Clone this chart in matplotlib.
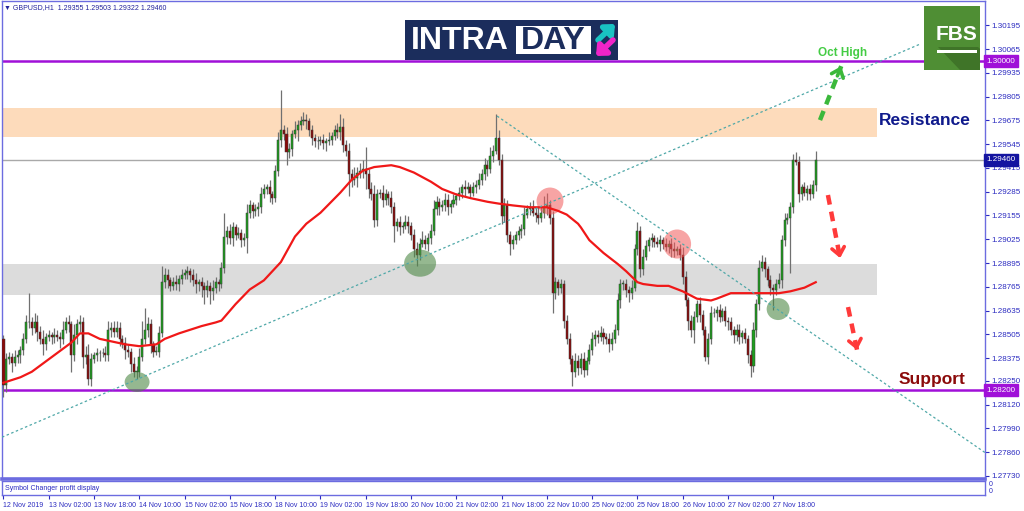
import numpy as np
import matplotlib
matplotlib.use('Agg')
import matplotlib.pyplot as plt
import matplotlib.transforms as mtrans
from matplotlib.patches import Ellipse, Rectangle, Polygon

# ---------------- data ----------------
BASE = 1.2800          # price base, values below are pips above it
PIP = 0.0001
OPEN0_PIPS = 48
CLOSE_PIPS = [
    23, 37, 38, 35, 38, 39, 42, 48, 57, 57,
    54, 57, 52, 48, 45, 49, 50, 49, 50, 49,
    48, 53, 57, 56, 39, 50, 56, 57, 38, 39,
    26, 37, 39, 40, 40, 40, 39, 53, 54, 52,
    54, 48, 46, 42, 41, 34, 30, 30, 38, 48,
    53, 56, 45, 41, 41, 51, 79, 83, 80, 77,
    79, 78, 81, 83, 84, 85, 83, 80, 78, 79,
    77, 75, 77, 74, 76, 79, 78, 87, 104, 107,
    103, 109, 105, 106, 102, 103, 117, 121, 118, 119,
    120, 127, 130, 131, 127, 125, 140, 157, 162, 160,
    150, 152, 160, 162, 165, 167, 168, 167, 162, 158,
    156, 156, 157, 155, 156, 157, 159, 162, 161, 164,
    154, 151, 138, 135, 136, 139, 140, 141, 138, 130,
    127, 113, 127, 128, 124, 127, 125, 120, 110, 112,
    109, 110, 112, 110, 105, 97, 94, 100, 102, 100,
    103, 107, 119, 123, 120, 121, 124, 120, 122, 124,
    126, 128, 131, 130, 131, 128, 131, 132, 135, 138,
    143, 141, 148, 151, 158, 146, 115, 121, 105, 100,
    102, 105, 107, 108, 116, 119, 120, 117, 116, 114,
    117, 120, 121, 114, 73, 79, 76, 78, 58, 48,
    37, 30, 36, 32, 37, 31, 36, 42, 48, 50,
    49, 51, 49, 48, 45, 48, 53, 69, 78, 78,
    75, 73, 76, 97, 107, 86, 93, 99, 102, 103,
    101, 100, 102, 100, 98, 100, 97, 96, 97, 94,
    82, 69, 58, 53, 60, 67, 61, 53, 38, 48,
    62, 62, 64, 60, 63, 58, 57, 53, 50, 53,
    49, 51, 48, 39, 33, 53, 67, 87, 90, 86,
    80, 76, 75, 78, 80, 102, 113, 114, 120, 146,
    145, 127, 131, 128, 130, 127, 132, 146,
]
UP_WICK = [
    2, 3, 3, 2, 4, 3, 2, 3, 4, 16,
    3, 5, 4, 3, 5, 2, 3, 2, 4, 3,
    3, 5, 3, 4, 2, 6, 3, 4, 3, 5,
    6, 3, 2, 3, 2, 3, 4, 5, 3, 4,
    4, 3, 2, 3, 3, 2, 4, 3, 5, 10,
    12, 4, 3, 2, 3, 4, 9, 4, 3, 2,
    3, 4, 2, 3, 2, 3, 2, 3, 4, 2,
    3, 2, 3, 2, 4, 3, 2, 3, 13, 3,
    4, 3, 2, 3, 2, 3, 5, 3, 2, 3,
    3, 4, 3, 2, 4, 2, 3, 4, 22, 3,
    4, 3, 2, 5, 3, 3, 4, 3, 2, 3,
    2, 3, 2, 3, 2, 4, 2, 3, 4, 7,
    5, 3, 4, 3, 6, 3, 4, 5, 12, 3,
    4, 5, 3, 2, 4, 3, 2, 4, 3, 2,
    3, 2, 4, 3, 2, 3, 4, 3, 5, 3,
    3, 4, 5, 3, 2, 3, 4, 3, 2, 3,
    2, 3, 2, 4, 3, 2, 3, 3, 4, 3,
    4, 3, 5, 3, 13, 4, 3, 4, 3, 2,
    3, 2, 3, 3, 4, 2, 3, 4, 3, 4,
    3, 6, 7, 3, 4, 3, 2, 3, 2, 3,
    3, 2, 4, 3, 3, 4, 2, 3, 4, 3,
    3, 4, 3, 2, 3, 4, 3, 4, 3, 2,
    3, 2, 4, 3, 5, 3, 4, 3, 2, 3,
    2, 3, 3, 2, 3, 2, 3, 4, 2, 3,
    4, 3, 2, 3, 3, 2, 4, 3, 2, 3,
    4, 3, 2, 3, 2, 3, 2, 3, 2, 3,
    3, 2, 3, 2, 3, 4, 3, 4, 4, 3,
    2, 3, 2, 3, 4, 3, 4, 3, 3, 3,
    4, 3, 2, 3, 2, 3, 3, 5,
]
DN_WICK = [
    7, 4, 3, 5, 2, 3, 4, 3, 2, 3,
    4, 3, 5, 3, 6, 3, 2, 4, 3, 2,
    5, 3, 2, 4, 9, 3, 5, 4, 6, 4,
    3, 4, 2, 3, 4, 2, 3, 3, 4, 3,
    3, 4, 3, 5, 3, 4, 3, 4, 3, 2,
    3, 4, 5, 3, 2, 3, 2, 3, 4, 3,
    2, 3, 4, 3, 2, 3, 4, 3, 5, 4,
    6, 8, 4, 7, 5, 3, 4, 2, 3, 4,
    3, 4, 3, 2, 4, 3, 8, 3, 4, 3,
    4, 3, 2, 3, 4, 3, 2, 3, 4, 3,
    7, 3, 4, 2, 6, 3, 2, 4, 3, 4,
    3, 4, 2, 3, 4, 2, 3, 2, 3, 4,
    4, 3, 12, 4, 3, 5, 3, 4, 8, 5,
    3, 4, 3, 2, 4, 3, 4, 3, 9, 3,
    4, 3, 2, 4, 3, 4, 6, 3, 2, 3,
    4, 3, 2, 3, 4, 2, 3, 4, 3, 2,
    3, 2, 3, 4, 2, 3, 2, 3, 2, 3,
    3, 4, 2, 3, 2, 3, 4, 3, 4, 6,
    3, 2, 3, 4, 3, 2, 3, 2, 4, 3,
    2, 3, 4, 3, 11, 3, 4, 3, 4, 3,
    3, 8, 3, 4, 3, 4, 3, 2, 3, 4,
    3, 2, 4, 3, 4, 3, 2, 3, 4, 3,
    4, 5, 3, 2, 3, 4, 3, 2, 3, 4,
    3, 2, 4, 3, 2, 3, 4, 3, 2, 3,
    4, 3, 5, 4, 7, 3, 4, 3, 2, 4,
    3, 2, 4, 3, 2, 3, 4, 3, 4, 3,
    4, 3, 2, 4, 6, 3, 4, 3, 2, 4,
    3, 4, 11, 3, 2, 4, 3, 2, 30, 3,
    2, 4, 3, 2, 4, 3, 2, 3,
]
# moving average (red line), sampled along the bars
MA_BAR = [0, 6, 10, 17, 24, 27, 30, 34, 40, 43, 48, 54, 57, 62, 70, 75, 77, 82,
          87, 92, 98, 103, 107, 112, 119, 123, 127, 131, 137, 140, 145, 151, 155,
          160, 165, 171, 175, 180, 186, 192, 196, 199, 203, 204, 207, 212, 217,
          220, 224, 226, 231, 235, 240, 245, 250, 252, 257, 261, 266, 271, 274,
          278, 283, 287]
MA_PIPS = [24, 27, 30, 38, 46, 51, 51, 48, 46, 45, 44, 45, 48, 51, 55, 57, 58, 67,
           75, 80, 90, 104, 111, 117, 128, 135, 140, 142, 143, 142, 139, 134, 130,
           127, 125, 123, 122, 121, 120, 120, 118, 116, 111, 109, 102, 95, 89,
           85, 79, 78, 77, 77, 74, 70, 69, 70, 73, 73, 73, 73, 73,
           74, 76, 79]

X_TICK_BARS = list(range(0, 273, 16))
X_TICK_LABELS = ['12 Nov 2019', '13 Nov 02:00', '13 Nov 18:00', '14 Nov 10:00',
                 '15 Nov 02:00', '15 Nov 18:00', '18 Nov 10:00', '19 Nov 02:00',
                 '19 Nov 18:00', '20 Nov 10:00', '21 Nov 02:00', '21 Nov 18:00',
                 '22 Nov 10:00', '25 Nov 02:00', '25 Nov 18:00', '26 Nov 10:00',
                 '27 Nov 02:00', '27 Nov 18:00']
Y_TICKS = [1.30195, 1.30065, 1.29935, 1.29805, 1.29675, 1.29545, 1.29415,
           1.29285, 1.29155, 1.29025, 1.28895, 1.28765, 1.28635, 1.28505,
           1.28375, 1.28250, 1.28120, 1.27990, 1.27860, 1.27730]
Y_TICK_LABELS = ['%.5f' % v for v in Y_TICKS]

OCT_HIGH = 1.30000
SUPPORT = 1.28200
LAST_PRICE = 1.29460
RES_ZONE = (1.29584, 1.29743)
SUP_ZONE = (1.28720, 1.28890)
ZONE_END_BAR = 308.7
TITLE = '\u25bc GBPUSD,H1  1.29355 1.29503 1.29322 1.29460'

# trendlines (bar, price)
TL_UP = [(-0.53, 1.27942), (323.9, 1.30093)]
TL_DOWN = [(174.4, 1.29699), (346.8, 1.27858)]
# highlight circles: (bar, price, width in bars, height in price)
GREEN_MARKS = [(47.2, 1.28244, 8.8, 0.00109), (147.2, 1.28894, 11.3, 0.00148),
               (273.7, 1.28643, 8.1, 0.00120)]
RED_MARKS = [(193.1, 1.29234, 9.5, 0.00148), (238.0, 1.28999, 9.9, 0.00159)]

# ---------------- derived ----------------
close = BASE + np.array(CLOSE_PIPS) * PIP
opn = np.concatenate([[BASE + OPEN0_PIPS * PIP], close[:-1]])
high = np.maximum(opn, close) + np.array(UP_WICK) * PIP
low = np.minimum(opn, close) - np.array(DN_WICK) * PIP
idx = np.arange(len(close))
ma_x = np.array(MA_BAR)
ma_y = BASE + np.array(MA_PIPS) * PIP

W, H = 1024, 511
fig = plt.figure(figsize=(W / 100, H / 100), dpi=100)
FRAME = '#6C6CE0'
BLUE_TXT = '#2A2AC0'
PURPLE = '#A010D8'
SMALL = ['Liberation Sans', 'DejaVu Sans']

def fx(px):
    return px / W

def fy(py):
    return 1 - py / H

ax = fig.add_axes([fx(2), fy(479), fx(985) - fx(2), fy(1) - fy(479)])
ax.set_xlim(-0.53, 346.8)
ax.set_ylim(1.277133, 1.303285)

# zones
ax.fill_between([-1, ZONE_END_BAR], RES_ZONE[0], RES_ZONE[1], color='#FDDBBB', lw=0, zorder=1)
ax.fill_between([-1, ZONE_END_BAR], SUP_ZONE[0], SUP_ZONE[1], color='#DCDCDC', lw=0, zorder=1)

# horizontal levels
ax.axhline(LAST_PRICE, color='#A9A9A9', lw=1.0, zorder=2)
ax.axhline(OCT_HIGH, color=PURPLE, lw=1.8, zorder=2)
ax.axhline(SUPPORT, color=PURPLE, lw=1.8, zorder=2)

# candles
up = close >= opn
ax.vlines(idx, low, high, color='#707070', lw=0.9, zorder=3)
body_b = np.minimum(opn, close)
body_h = np.maximum(np.abs(close - opn), 0.00003)
ax.bar(idx[up], body_h[up], bottom=body_b[up], width=0.72, color='#1F9F1F',
       edgecolor='#3A3A3A', linewidth=0.35, zorder=4)
ax.bar(idx[~up], body_h[~up], bottom=body_b[~up], width=0.72, color='#8B0A0A',
       edgecolor='#3A3A3A', linewidth=0.35, zorder=4)

# moving average
ax.plot(ma_x, ma_y, color='#F01818', lw=1.6, zorder=6)

# highlight circles
for (bx, py, w, h) in GREEN_MARKS:
    ax.add_patch(Ellipse((bx, py), w, h, facecolor='#4E8A47', alpha=0.6, lw=0, zorder=5))
for (bx, py, w, h) in RED_MARKS:
    ax.add_patch(Ellipse((bx, py), w, h, facecolor='#F25A5A', alpha=0.55, lw=0, zorder=5))

# trendlines
for tl in (TL_UP, TL_DOWN):
    ax.plot([tl[0][0], tl[1][0]], [tl[0][1], tl[1][1]], color='#4FA8A8',
            lw=0.9, ls=(0, (2, 2)), zorder=6, clip_on=True)

# arrows
def dashed_arrow(p0, p1, color):
    ax.plot([p0[0], p1[0]], [p0[1], p1[1]], color=color, lw=3.2,
            ls=(0, (2.2, 1.6)), zorder=7, solid_capstyle='butt')
    t = 0.82
    pm = (p0[0] + (p1[0] - p0[0]) * t, p0[1] + (p1[1] - p0[1]) * t)
    ax.annotate('', xy=p1, xytext=pm,
                arrowprops=dict(arrowstyle='->,head_length=0.55,head_width=0.45',
                                color=color, lw=2.6, shrinkA=0, shrinkB=0), zorder=7)

dashed_arrow((288.5, 1.29677), (296.0, 1.29972), '#3BB83B')
dashed_arrow((291.3, 1.29267), (295.6, 1.28922), '#FF3A3A')
dashed_arrow((298.4, 1.28654), (301.6, 1.28419), '#FF3A3A')

# labels
ax.text(296.3, 1.30044, 'Oct High', color='#44CC44', fontsize=8.5, fontweight='bold',
        ha='center', va='center', family=SMALL, zorder=8)
ax.text(325.6, 1.29672, 'Resistance', color='#0F1A8C', fontsize=12.5, fontweight='bold',
        ha='center', va='center', family=SMALL, zorder=8)
ax.text(328.1, 1.28260, 'Support', color='#8B0A0A', fontsize=12.5, fontweight='bold',
        ha='center', va='center', family=SMALL, zorder=8)

# axes styling
for s in ax.spines.values():
    s.set_color(FRAME)
    s.set_linewidth(1.0)
ax.spines['bottom'].set_linewidth(2.6)
ax.set_xticks([])
ax.yaxis.tick_right()
ax.set_yticks(Y_TICKS)
ax.set_yticklabels(Y_TICK_LABELS, family=SMALL)
ax.tick_params(axis='y', direction='out', length=3, width=0.8, color=BLUE_TXT,
               labelsize=5.8, labelcolor=BLUE_TXT, pad=1.5)

ytr = mtrans.blended_transform_factory(ax.transAxes, ax.transData)
for val, fc in ((OCT_HIGH, PURPLE), (LAST_PRICE, '#1414A0'), (SUPPORT, PURPLE)):
    ax.text(1.0015, val, '%.5f' % val, transform=ytr, fontsize=5.8, color='white',
            ha='left', va='center', zorder=10, clip_on=False, family=SMALL,
            bbox=dict(boxstyle='square,pad=0.3', fc=fc, ec=fc))

# sub window
sub = fig.add_axes([fx(2), fy(495), fx(985) - fx(2), fy(481) - fy(495)])
sub.set_xlim(-0.53, 346.8)
sub.set_ylim(0, 1)
for s in sub.spines.values():
    s.set_color(FRAME)
    s.set_linewidth(1.0)
sub.set_yticks([])
sub.set_xticks(X_TICK_BARS)
sub.set_xticklabels(X_TICK_LABELS, ha='left', family=SMALL)
sub.tick_params(axis='x', direction='out', length=3, width=0.8, color=BLUE_TXT,
                labelsize=5.0, labelcolor=BLUE_TXT, pad=2)
sub.text(0.003, 0.5, 'Symbol Changer profit display', transform=sub.transAxes,
         fontsize=5.0, color=BLUE_TXT, va='center', ha='left', family=SMALL)
sub.text(1.004, 0.78, '0', transform=sub.transAxes, fontsize=5.0, color=BLUE_TXT,
         va='center', family=SMALL)
sub.text(1.004, 0.22, '0', transform=sub.transAxes, fontsize=5.0, color=BLUE_TXT,
         va='center', family=SMALL)

# overlay for logos/title (pixel coords)
ov = fig.add_axes([0, 0, 1, 1], zorder=20)
ov.set_xlim(0, W)
ov.set_ylim(H, 0)
ov.axis('off')
ov.patch.set_alpha(0)
ov.text(4, 7.5, TITLE, fontsize=5.0, color='#22229A', va='center', ha='left', family=SMALL)

# INTRADAY logo
ov.add_patch(Rectangle((405, 20), 213, 40, fc='#1B2D5C', ec='none'))
ov.text(411, 41, 'INTRA', color='white', fontsize=23, fontweight='bold',
        family=SMALL, va='center', ha='left')
ov.add_patch(Rectangle((516, 26), 75, 28, fc='white', ec='none'))
ov.text(553.5, 41, 'DAY', color='#1B2D5C', fontsize=23, fontweight='bold',
        family=SMALL, va='center', ha='center')
ov.annotate('', xy=(615, 24), xytext=(598, 40),
            arrowprops=dict(arrowstyle='-|>,head_length=0.5,head_width=0.45',
                            color='#19C3C3', lw=4, shrinkA=0, shrinkB=0))
ov.annotate('', xy=(596, 56), xytext=(613, 40),
            arrowprops=dict(arrowstyle='-|>,head_length=0.5,head_width=0.45',
                            color='#F024C8', lw=4, shrinkA=0, shrinkB=0))

# FBS logo
ov.add_patch(Rectangle((924, 6), 56, 64, fc='#4F8E34', ec='none'))
ov.add_patch(Polygon([(938, 47), (978, 47), (980, 49), (980, 70), (960, 70)],
                     closed=True, fc='#3F7428', ec='none'))
ov.text(957, 34, 'FBS', color='white', fontsize=15, fontweight='bold',
        family=SMALL, va='center', ha='center')
ov.add_patch(Rectangle((937, 50), 40, 3, fc='white', ec='none'))

fig.savefig('out.png', dpi=100)
